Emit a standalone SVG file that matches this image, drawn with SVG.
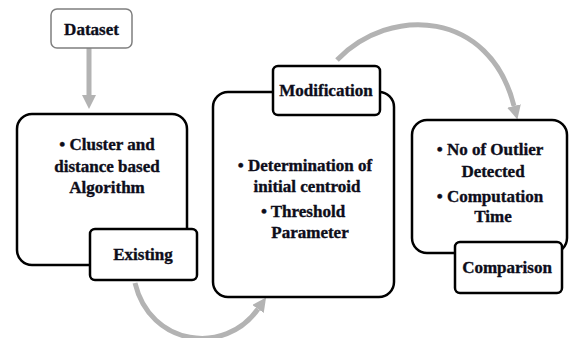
<svg xmlns="http://www.w3.org/2000/svg" width="573" height="338" viewBox="0 0 573 338">
<style>
.box{fill:#fff;stroke:#000;stroke-width:2.5}
.lbl{fill:#fff;stroke:#000;stroke-width:2.5}
.t{font-family:'Liberation Serif','DejaVu Serif',serif;font-weight:700;font-size:17px;fill:#0d0d1a;stroke:#0d0d1a;stroke-width:0.35;text-anchor:middle}
.conn{fill:none;stroke:#b3b3b3;stroke-width:5}
</style>
<defs>
<marker id="ah" markerUnits="userSpaceOnUse" markerWidth="14" markerHeight="14" viewBox="0 0 14 14" refX="0" refY="7" orient="auto">
<path d="M0,0 L14,7 L0,14 z" fill="#b3b3b3"/>
</marker>
</defs>
<g id="connectors">
<path class="conn" d="M89 48 L89 95" marker-end="url(#ah)"/>
<path class="conn" d="M135 283 C150 346 225 356 258 309" marker-end="url(#ah)"/>
<path class="conn" d="M337 60 C390 5 490 10 514 106" marker-end="url(#ah)"/>
</g>
<g id="dataset">
<rect x="51" y="9" width="81" height="39" rx="6" fill="#fff" stroke="#7f7f7f" stroke-width="1.5"/>
<text class="t" x="91.5" y="35">Dataset</text>
</g>
<g id="existing">
<rect class="box" x="17" y="114" width="170" height="151" rx="15"/>
<text class="t" x="107" y="150">• Cluster and</text>
<text class="t" x="107" y="172">distance based</text>
<text class="t" x="107" y="193">Algorithm</text>
<rect class="lbl" x="90" y="229" width="107" height="51" rx="5"/>
<text class="t" x="143" y="260">Existing</text>
</g>
<g id="modification">
<rect class="box" x="213" y="92" width="181" height="205" rx="15"/>
<text class="t" x="305" y="171">• Determination of</text>
<text class="t" x="307" y="192">initial centroid</text>
<text class="t" x="303" y="217">• Threshold</text>
<text class="t" x="310" y="238">Parameter</text>
<rect class="lbl" x="273" y="66" width="107" height="49" rx="5"/>
<text class="t" x="326" y="96">Modification</text>
</g>
<g id="comparison">
<rect class="box" x="412" y="120" width="155" height="133" rx="15"/>
<text class="t" x="490" y="155">• No of Outlier</text>
<text class="t" x="493" y="177">Detected</text>
<text class="t" x="490" y="202">• Computation</text>
<text class="t" x="493" y="222">Time</text>
<rect class="lbl" x="455" y="242" width="107" height="51" rx="5"/>
<text class="t" x="507" y="273">Comparison</text>
</g>
</svg>
